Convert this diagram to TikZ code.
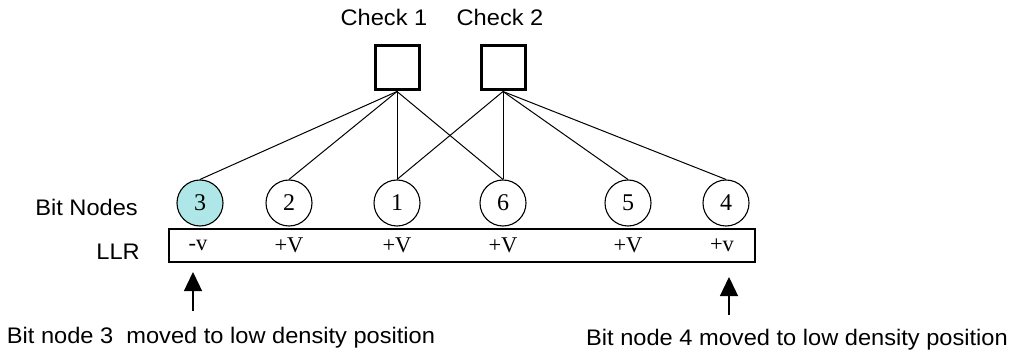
\documentclass[tikz,border=0pt]{standalone}
\usepackage{fontspec}
\usetikzlibrary{arrows.meta}
\newfontfamily\labfont[FakeStretch=1.05]{Liberation Sans}
\newfontfamily\numfont{Liberation Serif}
\definecolor{bitfill}{RGB}{175,230,232}
\begin{document}
\begin{tikzpicture}[x=1pt,y=-1pt,
  lab/.style={font=\labfont\fontsize{22.5}{26}\selectfont, inner sep=0pt},
  num/.style={font=\numfont\fontsize{22.5}{26}\selectfont, inner sep=0pt},
  check/.style={draw, line width=3pt, minimum size=44pt, inner sep=0pt},
  bit/.style={draw, circle, line width=1.1pt, minimum size=46pt, inner sep=0pt,
              font=\numfont\fontsize{24}{26}\selectfont},
  edge/.style={line width=1pt},
  up/.style={line width=1.3pt, -{Triangle[width=18pt,length=19pt]}}]
\useasboundingbox (0,0) rectangle (1009,358);

% check nodes
\node[check] (c1) at (397,68) {};
\node[check] (c2) at (503,68) {};
\node[lab] (c1l) at (384,17) {Check 1};
\node[lab] (c2l) at (500,17) {Check 2};

% bit nodes
\node[bit, fill=bitfill] (b3) at (200,203) {3};
\node[bit] (b2) at (289,203) {2};
\node[bit] (b1) at (397,203) {1};
\node[bit] (b6) at (503,203) {6};
\node[bit] (b5) at (628,203) {5};
\node[bit] (b4) at (726,203) {4};

% edges of the graph
\foreach \b in {b3,b2,b1,b6} \draw[edge] (c1.south) -- (\b.north);
\foreach \b in {b1,b6,b5,b4} \draw[edge] (c2.south) -- (\b.north);

% row labels
\node[lab, anchor=east] (bitrow) at (138,207) {Bit Nodes};
\node[lab, anchor=east] (llrrow) at (140,252) {LLR};

% LLR strip
\node[draw, line width=1.3pt, minimum width=586pt, minimum height=33pt, inner sep=0pt]
  (llr) at (462,245.5) {};
\node[num] (v3) at (198,245) {-v};
\node[num] (v2) at (289,245) {+V};
\node[num] (v1) at (397,245) {+V};
\node[num] (v6) at (503,245) {+V};
\node[num] (v5) at (628,245) {+V};
\node[num] (v4) at (722,245) {+v};

% arrows and notes
\coordinate (a3s) at (193,311);
\coordinate (a3e) at (193,272);
\coordinate (a4s) at (729,315);
\coordinate (a4e) at (729,277);
\draw[up] (a3s) -- (a3e);
\draw[up] (a4s) -- (a4e);
\node[lab] (n3) at (221,338) {Bit node 3\ \ moved to low density position};
\node[lab] (n4) at (797,340) {Bit node 4 moved to low density position};
\end{tikzpicture}
\end{document}
